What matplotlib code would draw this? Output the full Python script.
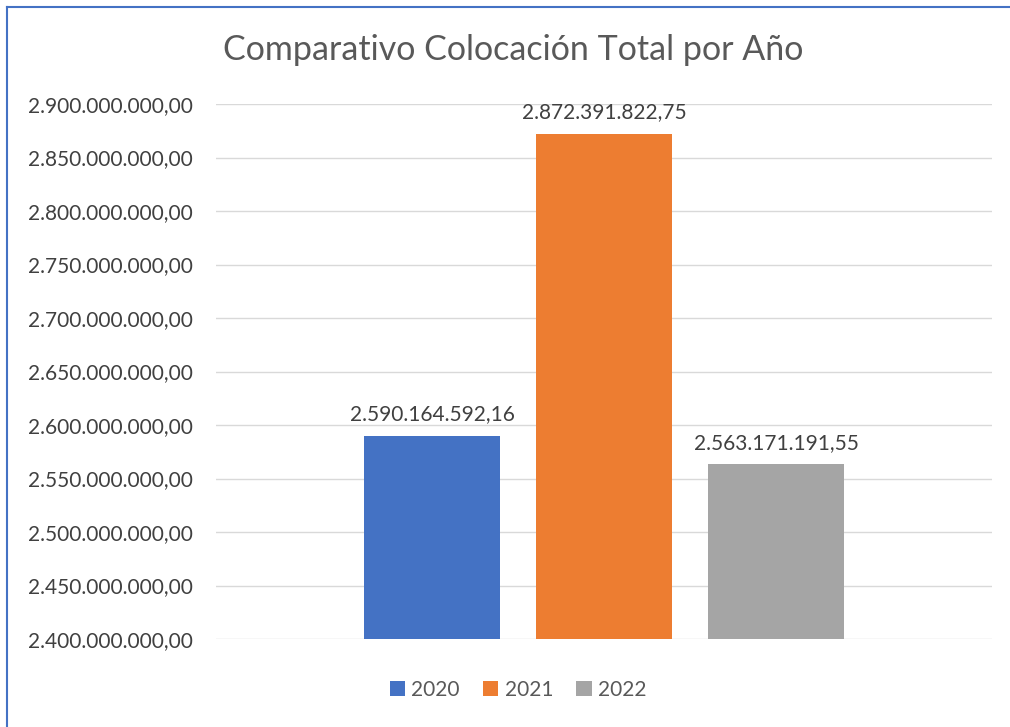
import matplotlib
matplotlib.use("Agg")
import matplotlib.pyplot as plt
from matplotlib.lines import Line2D
from matplotlib.ticker import FuncFormatter, MultipleLocator

years = ["2020", "2021", "2022"]
values = [2590164592.16, 2872391822.75, 2563171191.55]
colors = ["#4472C4", "#ED7D31", "#A5A5A5"]
title = "Comparativo Colocación Total por Año"

plt.rcParams['font.family'] = ['Lato', 'DejaVu Sans']
TXT = "#595959"

def fmt_es(v, pos=None):
    s = f"{v:,.2f}"
    return s.replace(",", "X").replace(".", ",").replace("X", ".")

fig = plt.figure(figsize=(10.1, 7.27), dpi=100)
bx, by = 6.5/1010, 1 - 6.5/727
fig.add_artist(Line2D([bx, bx], [0, by], transform=fig.transFigure, color="#4472C4", linewidth=1.5))
fig.add_artist(Line2D([bx, 1], [by, by], transform=fig.transFigure, color="#4472C4", linewidth=1.5))

ax = fig.add_axes([216/1010, 1-639/727, (992-216)/1010, (639-104)/727])
w = 136/172
xs = [-1, 0, 1]
for x, v, c, y in zip(xs, values, colors, years):
    ax.bar(x, v, width=w, color=c, label=y, zorder=3)
    ax.text(x, v + 11e6, fmt_es(v), ha="center", va="bottom", fontsize=15, color="#404040")

ax.set_ylim(2.4e9, 2.9e9)
ax.set_xlim(-2.256, 2.256)
ax.yaxis.set_major_locator(MultipleLocator(50e6))
ax.yaxis.set_major_formatter(FuncFormatter(fmt_es))
ax.grid(axis="y", color="#D9D9D9", linewidth=1, zorder=0)
ax.set_xticks([])
for s in ax.spines.values():
    s.set_visible(False)
ax.tick_params(axis="y", length=0, pad=16.5, labelsize=15, labelcolor="#404040")

fig.text(513/1010, 1-50/727, title, ha="center", va="center", fontsize=24.5, color=TXT)

leg = fig.legend(loc="center", bbox_to_anchor=(518/1010, 1-690/727), ncol=3, frameon=False,
                 fontsize=15, handlelength=0.75, handleheight=0.75, handletextpad=0.3,
                 columnspacing=1.1)
for t in leg.get_texts():
    t.set_color(TXT)

fig.savefig("out.png", dpi=100, facecolor="white")
